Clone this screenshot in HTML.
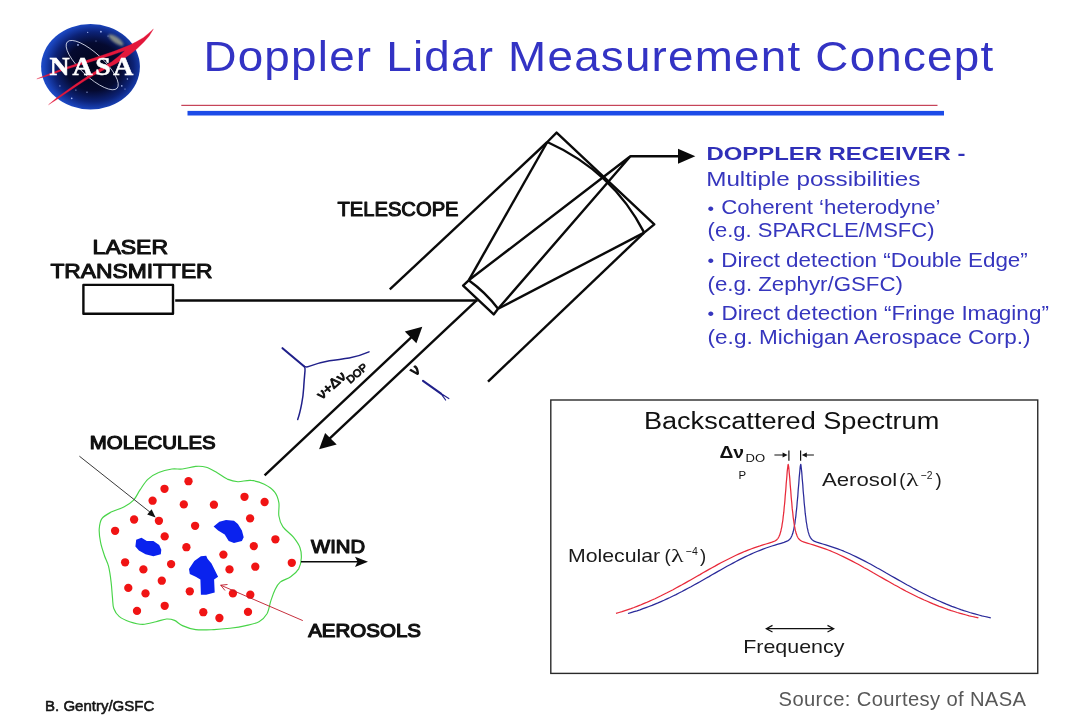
<!DOCTYPE html>
<html lang="en"><head><meta charset="utf-8"><title>Doppler Lidar Measurement Concept</title>
<style>
html,body{margin:0;padding:0;background:#fff;}
body{width:1080px;height:719px;overflow:hidden;position:relative;font-family:"Liberation Sans",sans-serif;}
svg{position:absolute;left:0;top:0;display:block;will-change:transform;}
text{font-family:"Liberation Sans",sans-serif;}
.k{fill:#111;}
.lbl{font-weight:normal;fill:#111;stroke:#111;stroke-width:1.05px;stroke-linejoin:round;}
.rx{fill:#3636be;font-size:19.6px;}
.sp{fill:#1a1a1a;font-size:18.5px;}
.sym{font-family:"Liberation Serif",serif;}
</style></head><body>
<svg width="1080" height="719" viewBox="0 0 1080 719">
<defs>
<radialGradient id="globe" cx="0.53" cy="0.5" r="0.58">
<stop offset="0" stop-color="#02041a"/><stop offset="0.48" stop-color="#050a30"/><stop offset="0.7" stop-color="#0c2276"/><stop offset="0.86" stop-color="#1a44bc"/><stop offset="1" stop-color="#2458dc"/>
</radialGradient>
<filter id="soft" x="-40%" y="-40%" width="180%" height="180%"><feGaussianBlur stdDeviation="1.1"/></filter>
</defs>

<!-- NASA LOGO -->
<g id="nasa">
<ellipse cx="90.5" cy="66.8" rx="49.4" ry="42.8" fill="url(#globe)"/>
<ellipse cx="116" cy="40" rx="9" ry="3" transform="rotate(35 116 40)" fill="#d4d49a" opacity="0.6" filter="url(#soft)"/>
<g fill="#b8c8ff" opacity="0.9"><circle cx="100.9" cy="31.7" r="0.9"/><circle cx="78" cy="44.9" r="0.9"/><circle cx="87.7" cy="32.4" r="0.6"/><circle cx="127.4" cy="79" r="0.8"/><circle cx="121.8" cy="85.9" r="0.8"/><circle cx="125" cy="89" r="0.6"/><circle cx="71.7" cy="98.4" r="0.8"/><circle cx="75.9" cy="90.1" r="0.6"/><circle cx="59.9" cy="85.9" r="0.6"/><circle cx="87" cy="92.2" r="0.6"/><circle cx="96" cy="41" r="0.5"/><circle cx="108" cy="36" r="0.5"/></g>
<ellipse cx="92.2" cy="65.1" rx="34" ry="11.5" transform="rotate(43 92.2 65.1)" fill="none" stroke="#dfe4f5" stroke-width="0.8"/>
<path d="M153.4,29.0 L149.0,33.0 L143.7,37.4 L136.7,41.6 L129.8,45.0 L122.8,47.8 L115.9,50.6 L108.9,53.0 L102.3,55.2 L93.3,58.3 L84.2,61.1 L75.2,64.3 L66.2,67.2 L48.1,74.2 L36.8,78.9 L48.1,75.7 L66.2,69.3 L75.2,66.6 L84.2,63.7 L93.3,61.0 L102.3,58.2 L111.4,55.3 L119.0,52.6 L125.0,50.6 L119.0,56.0 L111.4,62.0 L102.3,67.3 L93.3,72.5 L84.2,78.5 L75.2,84.6 L66.2,91.0 L57.1,97.5 L48.5,104.7 L57.1,99.3 L66.2,93.1 L75.2,86.9 L84.2,81.1 L93.3,75.4 L102.3,70.7 L111.4,66.0 L115.9,63.8 L122.8,59.4 L129.8,54.6 L136.7,49.0 L143.7,42.2 L149.2,36.0Z" fill="#e3173b" stroke="#e3173b" stroke-width="0.3" stroke-linejoin="round"/>
<g transform="translate(49.6,74.8) scale(1.13,1)"><text x="0" y="0" textLength="74.2" lengthAdjust="spacing" style="font-family:'Liberation Serif',serif;font-weight:bold;font-size:24.6px;fill:#fff;stroke:#fff;stroke-width:0.5px;">NASA</text></g>
</g>

<!-- TITLE -->
<g transform="translate(203.4,70.8) scale(1.09,1)"><text id="title" x="0" y="0" textLength="724.6" lengthAdjust="spacing" style="font-size:42px;fill:#3333c4;">Doppler Lidar Measurement Concept</text></g>
<rect x="181.3" y="104.8" width="756.2" height="1.1" fill="#c03048"/>
<rect x="187.5" y="110.9" width="756.5" height="4.6" fill="#1c4be8"/>

<!-- DIAGRAM LINES -->
<g fill="none" stroke="#0a0a0a" stroke-width="2.4" stroke-linecap="butt" stroke-linejoin="round">
<rect x="83.4" y="284.9" width="89.6" height="28.9"/>
<path d="M175.2,300.5 H477.6"/>
<!-- telescope -->
<path d="M547.3,142 L556.6,132.6 L654.3,224.4 L644.2,232.6"/>
<path d="M547.3,142 Q613,171.7 644.2,232.6"/>
<path d="M547.3,142 L468.7,280.3"/>
<path d="M644.2,232.6 L498.1,308.8"/>
<path d="M468.7,280.3 L463.1,285.6 L493.7,314.4 L498.1,308.8"/>
<path d="M468.7,280.3 Q485.5,292.3 498.1,308.8"/>
<path d="M468.7,280.3 L630.4,156.3 L498.1,308.8"/>
<path d="M630.4,156.3 H680"/>
<!-- outer beam edges -->
<path d="M547.3,142 L389.8,289.4"/>
<path d="M644.2,232.6 L488,381.7"/>
<!-- beams -->
<path d="M264.6,475.3 L412,336.6"/>
<path d="M476.6,300.4 L329,439.2"/>
</g>
<g fill="#0a0a0a">
<path d="M695.3,156.3 L678,148.8 L678,163.8Z"/>
<path d="M422.3,326.8 L404.8,331.6 L416.4,343.2Z"/>
<path d="M319.1,449.3 L336.7,444.5 L325.1,432.9Z"/>
</g>

<!-- diagram labels -->
<text class="lbl" x="92.6" y="253.9" textLength="75.5" lengthAdjust="spacingAndGlyphs" style="font-size:19.8px;">LASER</text>
<text class="lbl" x="50.4" y="278.4" textLength="162.2" lengthAdjust="spacingAndGlyphs" style="font-size:19.8px;">TRANSMITTER</text>
<text class="lbl" x="337.4" y="216.2" textLength="121.2" lengthAdjust="spacingAndGlyphs" style="font-size:19.8px;">TELESCOPE</text>
<text class="lbl" x="89.8" y="448.5" textLength="125.8" lengthAdjust="spacingAndGlyphs" style="font-size:17.8px;stroke-width:1.15px;">MOLECULES</text>
<text class="lbl" x="311.1" y="552.7" textLength="54" lengthAdjust="spacingAndGlyphs" style="font-size:17.8px;stroke-width:1.15px;">WIND</text>
<text class="lbl" x="308.2" y="636.6" textLength="112.8" lengthAdjust="spacingAndGlyphs" style="font-size:17.8px;stroke-width:1.15px;">AEROSOLS</text>

<!-- rotated nu labels -->
<g transform="translate(321.85,400) rotate(-42)"><text class="lbl" x="0" y="0" textLength="33.6" lengthAdjust="spacingAndGlyphs" style="font-size:13.6px;stroke-width:0.9px;">ν+Δν</text></g>
<g transform="translate(350.2,383.9) rotate(-41)"><text class="lbl" x="0" y="0" textLength="24" lengthAdjust="spacingAndGlyphs" style="font-size:10.6px;stroke-width:0.8px;">DOP</text></g>
<g transform="translate(415.3,376.5) rotate(-41)"><text class="lbl" x="0" y="0" style="font-size:15.5px;stroke-width:1.1px;">ν</text></g>

<!-- small blue spectra beside beams -->
<g fill="none" stroke="#20208a" stroke-width="1.5" stroke-linecap="round" stroke-linejoin="round">
<path d="M282.5,348.2 L303.7,366" stroke-width="2.1"/>
<path d="M303.7,366 Q306,367.6 309,366.4 C316,363.5 322,362 329.4,360.7 C337,359.5 343,359.2 349.2,358.1 C356,356.8 363,354.5 369,351.9"/>
<path d="M303.7,366 Q305.6,368 305,370.7 C304.5,377 304,382 303.7,387.8 C303.3,394 302.7,399 301.7,403.7 C300.7,409 299.5,414.5 297.7,419.5"/>
<path d="M423,380.8 L441,393.6" stroke-width="2.1"/>
<path d="M441,393.6 L448.8,398.6 M441,393.6 L445.6,400" stroke-width="1.2"/>
</g>

<!-- cloud -->
<path d="M182.4,469.0 C186.4,468.6 191.7,466.7 195.7,466.4 C199.6,466.1 202.7,466.2 206.2,467.2 C209.7,468.2 213.3,470.5 216.8,472.5 C220.3,474.4 223.8,477.5 227.3,479.1 C230.9,480.6 234.0,481.5 237.9,481.7 C241.9,481.9 246.7,479.9 251.1,480.4 C255.5,480.8 260.4,482.4 264.3,484.3 C268.3,486.3 272.5,489.2 274.9,492.3 C277.3,495.3 278.2,498.9 278.9,502.8 C279.5,506.8 278.2,512.1 278.9,516.0 C279.5,520.0 280.4,523.1 282.8,526.6 C285.2,530.1 290.5,533.6 293.4,537.2 C296.2,540.7 298.7,544.2 300.0,547.7 C301.3,551.3 301.5,554.8 301.3,558.3 C301.1,561.8 300.4,565.8 298.7,568.9 C296.9,571.9 293.8,574.6 290.7,576.8 C287.7,579.0 282.8,579.9 280.2,582.1 C277.5,584.3 276.4,586.9 274.9,590.0 C273.4,593.1 272.3,596.6 270.9,600.6 C269.6,604.5 268.9,610.2 267.0,613.8 C265.0,617.3 262.6,619.7 259.0,621.7 C255.5,623.7 250.7,624.5 245.8,625.6 C241.0,626.7 235.3,627.6 230.0,628.3 C224.7,628.9 219.9,629.4 214.1,629.6 C208.4,629.8 200.9,630.3 195.7,629.6 C190.4,628.9 186.0,627.2 182.4,625.6 C178.9,624.1 177.2,621.5 174.5,620.4 C171.9,619.3 169.7,618.8 166.6,619.0 C163.5,619.3 160.0,620.8 156.0,621.7 C152.1,622.6 147.2,624.3 142.8,624.3 C138.4,624.3 133.6,623.0 129.6,621.7 C125.7,620.4 121.7,618.6 119.1,616.4 C116.4,614.2 114.9,611.6 113.8,608.5 C112.7,605.4 112.9,602.3 112.5,597.9 C112.0,593.5 111.8,587.3 111.1,582.1 C110.5,576.8 109.6,570.6 108.5,566.2 C107.4,561.8 105.8,559.6 104.5,555.7 C103.2,551.7 101.4,546.8 100.6,542.4 C99.7,538.0 99.0,533.2 99.2,529.2 C99.5,525.3 99.9,521.5 101.9,518.7 C103.9,515.8 107.4,514.1 111.1,512.1 C114.9,510.1 120.6,508.8 124.3,506.8 C128.1,504.8 130.9,503.0 133.6,500.2 C136.2,497.3 137.8,493.1 140.2,489.6 C142.6,486.1 145.0,481.9 148.1,479.1 C151.2,476.2 154.7,474.1 158.7,472.5 C162.6,470.8 167.9,469.6 171.9,469.0 C175.8,468.4 178.5,469.5 182.4,469.0Z" fill="none" stroke="#48d448" stroke-width="1.15"/>
<g fill="#f01414"><circle cx="188.5" cy="481.2" r="4.15"/><circle cx="164.5" cy="488.8" r="4.15"/><circle cx="152.6" cy="500.7" r="4.15"/><circle cx="183.8" cy="504.4" r="4.15"/><circle cx="213.9" cy="504.7" r="4.15"/><circle cx="244.5" cy="496.8" r="4.15"/><circle cx="264.6" cy="502.0" r="4.15"/><circle cx="134.1" cy="519.5" r="4.15"/><circle cx="158.9" cy="520.8" r="4.15"/><circle cx="195.1" cy="525.8" r="4.15"/><circle cx="250.1" cy="518.4" r="4.15"/><circle cx="115.1" cy="530.8" r="4.15"/><circle cx="164.7" cy="536.4" r="4.15"/><circle cx="186.4" cy="547.2" r="4.15"/><circle cx="223.4" cy="554.6" r="4.15"/><circle cx="253.8" cy="546.1" r="4.15"/><circle cx="275.4" cy="539.3" r="4.15"/><circle cx="125.1" cy="562.3" r="4.15"/><circle cx="143.4" cy="569.4" r="4.15"/><circle cx="171.1" cy="564.1" r="4.15"/><circle cx="229.5" cy="569.4" r="4.15"/><circle cx="255.3" cy="566.7" r="4.15"/><circle cx="291.8" cy="562.8" r="4.15"/><circle cx="161.8" cy="580.7" r="4.15"/><circle cx="128.3" cy="587.9" r="4.15"/><circle cx="145.5" cy="593.4" r="4.15"/><circle cx="189.8" cy="591.3" r="4.15"/><circle cx="232.9" cy="593.4" r="4.15"/><circle cx="250.3" cy="594.7" r="4.15"/><circle cx="164.7" cy="605.8" r="4.15"/><circle cx="137.0" cy="610.9" r="4.15"/><circle cx="203.3" cy="612.2" r="4.15"/><circle cx="219.4" cy="618.0" r="4.15"/><circle cx="248.0" cy="611.9" r="4.15"/></g>
<g fill="#0a22ee"><path d="M136.2,539.8 L141.5,537.7 L146.8,541.1 L153.4,541.1 L159.2,545.1 L161.3,549.8 L160.8,554.3 L153.4,556.2 L145.5,554.3 L138.9,550.4 L135.4,546.4Z"/><path d="M213.6,526.6 L219.4,521.8 L226.0,520.0 L234.0,520.8 L237.9,524.0 L241.9,530.6 L243.7,537.2 L241.9,541.1 L234.0,543.0 L228.7,541.1 L224.7,534.5 L218.1,530.6Z"/><path d="M189.0,568.9 L194.3,560.9 L200.9,556.2 L206.2,555.7 L207.5,558.8 L211.5,563.6 L218.1,576.8 L214.1,579.4 L214.7,592.6 L206.2,594.7 L200.9,594.7 L200.4,579.4 L195.7,576.8 L189.8,574.1Z"/></g>
<!-- molecules arrow -->
<path d="M79.4,456.2 L153,514.5" stroke="#222" stroke-width="0.9" fill="none"/>
<path d="M155.6,517.4 L147.2,514.6 L151.6,509.2Z" fill="#111"/>
<!-- aerosols arrow -->
<path d="M302.8,620.6 L220.7,585.2 M227.5,584.5 L220.7,585.2 L225,590.5" stroke="#c01828" stroke-width="0.9" fill="none"/>
<!-- wind arrow -->
<path d="M301,561.8 H358" stroke="#0a0a0a" stroke-width="1.5" fill="none"/>
<path d="M368,561.8 L355,556.7 L357.6,561.8 L355,566.9Z" fill="#0a0a0a"/>

<!-- DOPPLER RECEIVER text -->
<text x="706.4" y="160.1" textLength="259" lengthAdjust="spacingAndGlyphs" style="font-size:19.2px;font-weight:bold;fill:#3030b8;">DOPPLER RECEIVER -</text>
<text class="rx" x="706.2" y="185.6" textLength="214.3" lengthAdjust="spacingAndGlyphs">Multiple possibilities</text>
<text class="rx" x="707.6" y="214.4" textLength="232.9" lengthAdjust="spacingAndGlyphs"><tspan style="font-size:16.5px;" dy="-0.8">•</tspan><tspan dy="0.8" dx="0.8"> Coherent ‘heterodyne’</tspan></text>
<text class="rx" x="707.6" y="237.3" textLength="226.9" lengthAdjust="spacingAndGlyphs">(e.g. SPARCLE/MSFC)</text>
<text class="rx" x="707.6" y="267.2" textLength="320.2" lengthAdjust="spacingAndGlyphs"><tspan style="font-size:16.5px;" dy="-0.8">•</tspan><tspan dy="0.8" dx="0.8"> Direct detection “Double Edge”</tspan></text>
<text class="rx" x="707.6" y="291.2" textLength="195.3" lengthAdjust="spacingAndGlyphs">(e.g. Zephyr/GSFC)</text>
<text class="rx" x="707.6" y="320" textLength="341.3" lengthAdjust="spacingAndGlyphs"><tspan style="font-size:16.5px;" dy="-0.8">•</tspan><tspan dy="0.8" dx="0.8"> Direct detection “Fringe Imaging”</tspan></text>
<text class="rx" x="707.6" y="343.9" textLength="323" lengthAdjust="spacingAndGlyphs">(e.g. Michigan Aerospace Corp.)</text>

<!-- SPECTRUM BOX -->
<rect x="550.8" y="400" width="486.95" height="273.4" fill="#fff" stroke="#2a2a2a" stroke-width="1.4"/>
<text x="643.9" y="428.5" textLength="295.4" lengthAdjust="spacingAndGlyphs" style="font-size:23.3px;fill:#111;">Backscattered Spectrum</text>
<text x="719.4" y="458.3" textLength="24.6" lengthAdjust="spacingAndGlyphs" style="font-size:16.6px;font-weight:bold;fill:#111;">Δν</text>
<text x="745.6" y="462.2" style="font-size:11.8px;fill:#111;" textLength="19.6" lengthAdjust="spacingAndGlyphs">DO</text>
<text x="738.4" y="478.7" style="font-size:11.4px;fill:#111;">P</text>
<g stroke="#111" stroke-width="1.2" fill="none">
<path d="M774.4,455 H785 M788.9,450.6 V460.8 M800.6,450.6 V460.8 M804,455 H813.9"/>
</g>
<path d="M787.6,455 L782.6,452.4 L782.6,457.6Z M801.8,455 L806.8,452.4 L806.8,457.6Z" fill="#111"/>
<path d="M628.0,613.5 L631.0,612.6 L634.0,611.7 L637.0,610.8 L640.0,609.8 L643.0,608.7 L646.0,607.6 L649.0,606.5 L652.0,605.4 L655.0,604.1 L658.0,602.9 L661.0,601.6 L664.0,600.3 L667.0,598.9 L670.0,597.5 L673.0,596.0 L676.0,594.6 L679.0,593.0 L682.0,591.5 L685.0,589.9 L688.0,588.3 L691.0,586.7 L694.0,585.0 L697.0,583.4 L700.0,581.7 L703.0,580.0 L706.0,578.3 L709.0,576.6 L712.0,574.8 L715.0,573.1 L718.0,571.4 L721.0,569.7 L724.0,568.0 L727.0,566.3 L730.0,564.7 L733.0,563.1 L736.0,561.5 L739.0,559.9 L742.0,558.4 L745.0,556.9 L748.0,555.5 L751.0,554.1 L754.0,552.8 L757.0,551.5 L760.0,550.3 L763.0,549.1 L766.0,548.0 L769.0,547.0 L772.0,546.0 L775.0,545.1 L778.0,544.2 L781.0,543.3 L784.0,542.4 L787.0,541.2 L787.2,541.1 L787.5,541.0 L787.8,540.8 L788.0,540.7 L788.2,540.5 L788.5,540.3 L788.8,540.2 L789.0,539.9 L789.2,539.7 L789.5,539.5 L789.8,539.2 L790.0,538.9 L790.2,538.6 L790.5,538.3 L790.8,537.9 L791.0,537.5 L791.2,537.0 L791.5,536.5 L791.8,536.0 L792.0,535.4 L792.2,534.8 L792.5,534.0 L792.8,533.3 L793.0,532.4 L793.2,531.5 L793.5,530.5 L793.8,529.3 L794.0,528.1 L794.2,526.8 L794.5,525.4 L794.8,523.9 L795.0,522.3 L795.2,520.5 L795.5,518.7 L795.8,516.6 L796.0,514.5 L796.2,512.2 L796.5,509.9 L796.8,507.3 L797.0,504.7 L797.2,501.9 L797.5,499.1 L797.8,496.1 L798.0,493.0 L798.2,489.9 L798.5,486.8 L798.8,483.6 L799.0,480.5 L799.2,477.4 L799.5,474.4 L799.8,471.6 L800.0,469.0 L800.2,466.8 L800.5,465.0 L800.8,464.3 L801.0,465.6 L801.2,467.6 L801.5,470.0 L801.8,472.7 L802.0,475.6 L802.2,478.6 L802.5,481.7 L802.8,484.9 L803.0,488.1 L803.2,491.2 L803.5,494.3 L803.8,497.3 L804.0,500.2 L804.2,503.0 L804.5,505.8 L804.8,508.4 L805.0,510.8 L805.2,513.2 L805.5,515.4 L805.8,517.5 L806.0,519.4 L806.2,521.3 L806.5,523.0 L806.8,524.5 L807.0,526.0 L807.2,527.4 L807.5,528.6 L807.8,529.8 L808.0,530.9 L808.2,531.9 L808.5,532.8 L808.8,533.6 L809.0,534.3 L809.2,535.0 L809.5,535.7 L809.8,536.2 L810.0,536.7 L810.2,537.2 L810.5,537.7 L810.8,538.1 L811.0,538.4 L811.2,538.8 L811.5,539.1 L811.8,539.3 L812.0,539.6 L812.2,539.8 L812.5,540.0 L812.8,540.2 L813.0,540.4 L813.2,540.6 L813.5,540.7 L813.8,540.9 L814.0,541.0 L814.2,541.2 L814.5,541.3 L814.8,541.4 L815.0,541.5 L815.2,541.6 L815.5,541.7 L815.8,541.8 L816.0,541.9 L816.2,542.0 L816.5,542.1 L816.8,542.2 L819.8,543.1 L822.8,544.0 L825.8,544.9 L828.8,545.8 L831.8,546.8 L834.8,547.8 L837.8,548.9 L840.8,550.0 L843.8,551.2 L846.8,552.5 L849.8,553.8 L852.8,555.2 L855.8,556.6 L858.8,558.1 L861.8,559.6 L864.8,561.1 L867.8,562.7 L870.8,564.3 L873.8,566.0 L876.8,567.7 L879.8,569.3 L882.8,571.0 L885.8,572.8 L888.8,574.5 L891.8,576.2 L894.8,577.9 L897.8,579.6 L900.8,581.3 L903.8,583.0 L906.8,584.7 L909.8,586.3 L912.8,588.0 L915.8,589.6 L918.8,591.2 L921.8,592.7 L924.8,594.2 L927.8,595.7 L930.8,597.2 L933.8,598.6 L936.8,600.0 L939.8,601.3 L942.8,602.6 L945.8,603.9 L948.8,605.1 L951.8,606.3 L954.8,607.4 L957.8,608.5 L960.8,609.6 L963.8,610.6 L966.8,611.5 L969.8,612.5 L972.8,613.3 L975.8,614.2 L978.8,615.0 L981.8,615.8 L984.8,616.5 L987.8,617.2 L990.8,617.8 L990.8,617.8" fill="none" stroke="#2a2a9a" stroke-width="1.25" stroke-linejoin="round"/>
<path d="M616.0,613.4 L619.0,612.5 L622.0,611.6 L625.0,610.6 L628.0,609.6 L631.0,608.6 L634.0,607.5 L637.0,606.3 L640.0,605.2 L643.0,603.9 L646.0,602.7 L649.0,601.4 L652.0,600.0 L655.0,598.7 L658.0,597.2 L661.0,595.8 L664.0,594.3 L667.0,592.8 L670.0,591.2 L673.0,589.7 L676.0,588.0 L679.0,586.4 L682.0,584.8 L685.0,583.1 L688.0,581.4 L691.0,579.7 L694.0,578.0 L697.0,576.3 L700.0,574.6 L703.0,572.8 L706.0,571.1 L709.0,569.4 L712.0,567.7 L715.0,566.1 L718.0,564.4 L721.0,562.8 L724.0,561.2 L727.0,559.7 L730.0,558.2 L733.0,556.7 L736.0,555.3 L739.0,553.9 L742.0,552.6 L745.0,551.3 L748.0,550.1 L751.0,549.0 L754.0,547.9 L757.0,546.8 L760.0,545.9 L763.0,544.9 L766.0,544.0 L769.0,543.1 L772.0,542.2 L775.0,541.0 L775.2,540.8 L775.5,540.7 L775.8,540.5 L776.0,540.3 L776.2,540.2 L776.5,539.9 L776.8,539.7 L777.0,539.5 L777.2,539.2 L777.5,538.9 L777.8,538.6 L778.0,538.3 L778.2,537.9 L778.5,537.5 L778.8,537.0 L779.0,536.5 L779.2,536.0 L779.5,535.4 L779.8,534.8 L780.0,534.0 L780.2,533.3 L780.5,532.4 L780.8,531.5 L781.0,530.5 L781.2,529.3 L781.5,528.1 L781.8,526.8 L782.0,525.4 L782.2,523.9 L782.5,522.3 L782.8,520.5 L783.0,518.7 L783.2,516.6 L783.5,514.5 L783.8,512.2 L784.0,509.9 L784.2,507.3 L784.5,504.7 L784.8,501.9 L785.0,499.1 L785.2,496.1 L785.5,493.0 L785.8,489.9 L786.0,486.8 L786.2,483.6 L786.5,480.5 L786.8,477.4 L787.0,474.4 L787.2,471.6 L787.5,469.0 L787.8,466.8 L788.0,465.0 L788.2,464.3 L788.5,465.6 L788.8,467.6 L789.0,470.0 L789.2,472.7 L789.5,475.6 L789.8,478.6 L790.0,481.7 L790.2,484.9 L790.5,488.1 L790.8,491.2 L791.0,494.3 L791.2,497.3 L791.5,500.2 L791.8,503.0 L792.0,505.8 L792.2,508.4 L792.5,510.8 L792.8,513.2 L793.0,515.4 L793.2,517.5 L793.5,519.4 L793.8,521.3 L794.0,523.0 L794.2,524.5 L794.5,526.0 L794.8,527.4 L795.0,528.6 L795.2,529.8 L795.5,530.9 L795.8,531.9 L796.0,532.8 L796.2,533.6 L796.5,534.3 L796.8,535.0 L797.0,535.7 L797.2,536.2 L797.5,536.7 L797.8,537.2 L798.0,537.7 L798.2,538.1 L798.5,538.4 L798.8,538.8 L799.0,539.1 L799.2,539.3 L799.5,539.6 L799.8,539.8 L800.0,540.0 L800.2,540.2 L800.5,540.4 L800.8,540.6 L801.0,540.7 L801.2,540.9 L801.5,541.0 L801.8,541.2 L802.0,541.3 L802.2,541.4 L802.5,541.5 L802.8,541.6 L803.0,541.7 L803.2,541.8 L803.5,541.9 L803.8,542.0 L804.0,542.1 L804.2,542.2 L807.2,543.1 L810.2,544.0 L813.2,544.9 L816.2,545.8 L819.2,546.8 L822.2,547.8 L825.2,548.9 L828.2,550.0 L831.2,551.2 L834.2,552.5 L837.2,553.8 L840.2,555.2 L843.2,556.6 L846.2,558.1 L849.2,559.6 L852.2,561.1 L855.2,562.7 L858.2,564.3 L861.2,566.0 L864.2,567.7 L867.2,569.3 L870.2,571.0 L873.2,572.8 L876.2,574.5 L879.2,576.2 L882.2,577.9 L885.2,579.6 L888.2,581.3 L891.2,583.0 L894.2,584.7 L897.2,586.3 L900.2,588.0 L903.2,589.6 L906.2,591.2 L909.2,592.7 L912.2,594.2 L915.2,595.7 L918.2,597.2 L921.2,598.6 L924.2,600.0 L927.2,601.3 L930.2,602.6 L933.2,603.9 L936.2,605.1 L939.2,606.3 L942.2,607.4 L945.2,608.5 L948.2,609.6 L951.2,610.6 L954.2,611.5 L957.2,612.5 L960.2,613.3 L963.2,614.2 L966.2,615.0 L969.2,615.8 L972.2,616.5 L975.2,617.2 L978.2,617.8 L978.4,617.9" fill="none" stroke="#e82a3a" stroke-width="1.25" stroke-linejoin="round"/>
<text class="sp" x="568" y="562.2" textLength="92.2" lengthAdjust="spacingAndGlyphs">Molecular</text>
<text class="sp" x="664.4" y="562.2">(</text><text class="sp sym" x="671" y="562.4" textLength="12.6" lengthAdjust="spacingAndGlyphs" style="font-size:18.5px;">λ</text><text class="sp" x="685.8" y="555.2" textLength="12" lengthAdjust="spacingAndGlyphs" style="font-size:11.2px;">−4</text><text class="sp" x="699.9" y="562.2">)</text>
<text class="sp" x="822" y="485.8" textLength="75.2" lengthAdjust="spacingAndGlyphs">Aerosol</text>
<text class="sp" x="899.3" y="485.8">(</text><text class="sp sym" x="906.1" y="486" textLength="12.6" lengthAdjust="spacingAndGlyphs" style="font-size:18.5px;">λ</text><text class="sp" x="920.8" y="478.8" textLength="11.8" lengthAdjust="spacingAndGlyphs" style="font-size:11.2px;">−2</text><text class="sp" x="935.5" y="485.8">)</text>
<path d="M767,628.7 H833 M772.5,625.4 L766.3,628.7 L772.5,632 M827.5,625.4 L833.7,628.7 L827.5,632" stroke="#111" stroke-width="1.2" fill="none"/>
<text class="sp" x="743.2" y="652.7" textLength="101.2" lengthAdjust="spacingAndGlyphs">Frequency</text>

<!-- FOOTERS -->
<text x="45.1" y="711.2" textLength="109.2" lengthAdjust="spacingAndGlyphs" style="font-size:14px;fill:#151515;stroke:#151515;stroke-width:0.55px;stroke-linejoin:round;">B. Gentry/GSFC</text>
<text x="778.6" y="705.9" textLength="247.4" lengthAdjust="spacing" style="font-size:20.2px;fill:#585858;">Source: Courtesy of NASA</text>
</svg>
</body></html>
